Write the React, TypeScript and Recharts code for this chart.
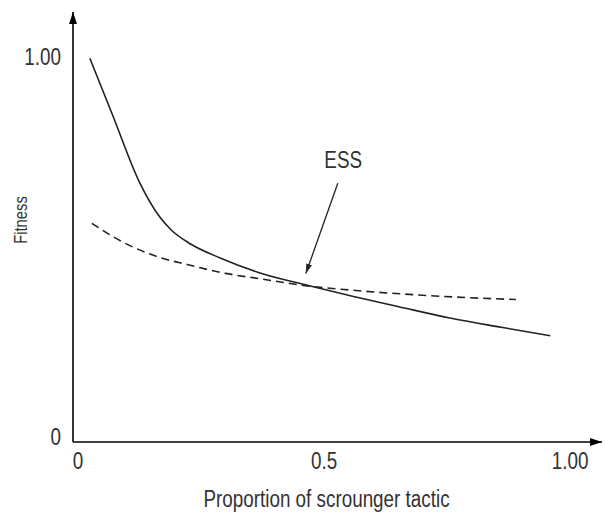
import { LineChart, Line, XAxis, YAxis, ReferenceLine, ReferenceDot } from 'recharts';

// Solid curve (fitness of scroungers)
const solidX = [0.024, 0.07, 0.126, 0.167, 0.19, 0.228, 0.289, 0.37, 0.47, 0.56, 0.65, 0.756, 0.86, 0.96];
const solidY = [0.997, 0.85, 0.672, 0.583, 0.55, 0.515, 0.478, 0.439, 0.406, 0.378, 0.352, 0.322, 0.298, 0.276];

// Dashed curve (fitness of producers)
const dashX = [0.028, 0.09, 0.167, 0.222, 0.3, 0.37, 0.47, 0.56, 0.654, 0.76, 0.89];
const dashY = [0.568, 0.52, 0.479, 0.461, 0.438, 0.424, 0.405, 0.394, 0.385, 0.377, 0.37];

const xTicks = [0, 0.5, 1];
const yTicks = [0, 1];

// ESS annotation
const essLabel = { x: 0.539, y: 0.732 };
const essArrow = [
  { x: 0.528, y: 0.672 },
  { x: 0.463, y: 0.4375 },
];

const solidData = solidX.map((x, i) => ({ x, y: solidY[i] }));
const dashData = dashX.map((x, i) => ({ x, y: dashY[i] }));

// no narrow face installed, so squeeze Liberation Sans horizontally
const font = "'Liberation Sans', Arial, sans-serif";
const squeeze = 0.82;
const ink = '#222';
const textColor = '#333';

const formatTick = (v: number) => (v === 0 ? '0' : v === 1 ? '1.00' : String(v));

const XTick = ({ x, y, payload }: any) => (
  <g transform={`translate(${x},${y}) scale(${squeeze},1)`}>
    <text textAnchor="middle" dy={19} fill={textColor} fontSize={23} fontFamily={font}>
      {formatTick(payload.value)}
    </text>
  </g>
);

const YTick = ({ x, y, payload }: any) => (
  <g transform={`translate(${x},${y + (payload.value === 0 ? -5 : 0)}) scale(${squeeze},1)`}>
    <text textAnchor="end" dy={8} fill={textColor} fontSize={23} fontFamily={font}>
      {formatTick(payload.value)}
    </text>
  </g>
);

const XTitle = ({ viewBox }: any) => (
  <g transform={`translate(${viewBox.x + viewBox.width / 2 - 11},${viewBox.y + viewBox.height - 9}) scale(${squeeze},1)`}>
    <text textAnchor="middle" fill={textColor} fontSize={23} fontFamily={font}>
      Proportion of scrounger tactic
    </text>
  </g>
);

const YTitle = ({ viewBox }: any) => (
  <g transform={`translate(${viewBox.x + 21},${viewBox.y + viewBox.height / 2 - 7}) rotate(-90) scale(${squeeze},1)`}>
    <text textAnchor="middle" dy={6} fill="#333333" fontSize={18} fontFamily={font}>
      Fitness
    </text>
  </g>
);

const EssText = ({ viewBox }: any) => (
  <g transform={`translate(${viewBox.x},${viewBox.y}) scale(${squeeze},1)`}>
    <text textAnchor="middle" dy={8} fill={textColor} fontSize={23} fontFamily={font}>
      ESS
    </text>
  </g>
);

export default function App() {
  return (
    <div style={{ position: 'absolute', left: 0, top: 0, background: '#fff' }}>
      <LineChart width={605} height={516} margin={{ top: 12, right: 3, left: 0, bottom: 0 }}>
        <defs>
          <marker
            id="axisArrow"
            viewBox="0 0 12 8"
            refX={12}
            refY={4}
            markerWidth={12}
            markerHeight={8}
            markerUnits="userSpaceOnUse"
            orient="auto-start-reverse"
          >
            <path d="M0,0 L12,4 L0,8 z" fill="#000" />
          </marker>
          <marker
            id="essArrow"
            viewBox="0 0 10 6"
            refX={10}
            refY={3}
            markerWidth={10}
            markerHeight={6}
            markerUnits="userSpaceOnUse"
            orient="auto"
          >
            <path d="M0,0 L10,3 L0,6 z" fill={ink} />
          </marker>
        </defs>
        <XAxis
          type="number"
          dataKey="x"
          domain={[-0.0102, 1.065]}
          ticks={xTicks}
          tickLine={false}
          axisLine={{ stroke: '#000', strokeWidth: 1.6, markerEnd: 'url(#axisArrow)' }}
          tick={<XTick />}
          height={74}
          allowDataOverflow
          label={{ content: XTitle }}
        />
        <YAxis
          type="number"
          dataKey="y"
          domain={[0, 1.117]}
          ticks={yTicks}
          tickLine={false}
          tickMargin={6}
          axisLine={{ stroke: '#000', strokeWidth: 1.6, markerStart: 'url(#axisArrow)' }}
          tick={<YTick />}
          width={73}
          allowDataOverflow
          label={{ content: YTitle }}
        />
        <Line
          data={dashData}
          dataKey="y"
          type="monotone"
          stroke={ink}
          strokeWidth={1.6}
          strokeDasharray="8 5"
          dot={false}
          isAnimationActive={false}
        />
        <Line
          data={solidData}
          dataKey="y"
          type="monotone"
          stroke={ink}
          strokeWidth={1.6}
          dot={false}
          isAnimationActive={false}
        />
        <ReferenceLine
          segment={essArrow}
          stroke={ink}
          strokeWidth={1.3}
          markerEnd="url(#essArrow)"
          ifOverflow="visible"
        />
        <ReferenceDot
          x={essLabel.x}
          y={essLabel.y}
          r={0}
          fill="none"
          stroke="none"
          ifOverflow="visible"
          label={{ content: EssText }}
        />
      </LineChart>
    </div>
  );
}
